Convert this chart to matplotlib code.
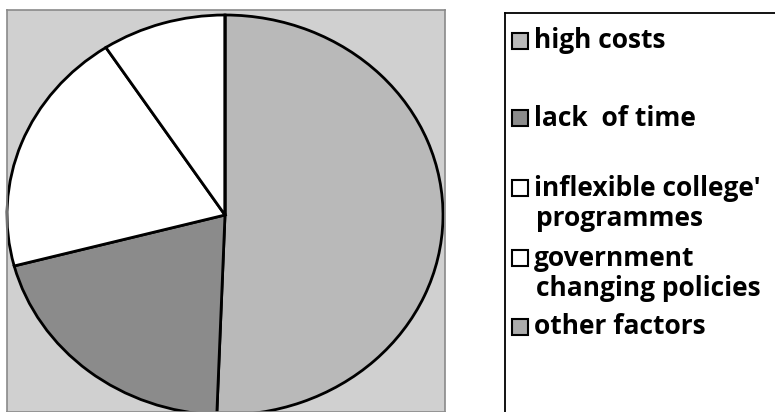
import matplotlib.pyplot as plt
from matplotlib.patches import Rectangle

labels = ['high costs', 'lack  of time', "inflexible college'\nprogrammes",
          'government\nchanging policies', 'other factors']
shares = [50.6, 20.3, 19.9, 9.2, 0.0]
colors = ['#b9b9b9', '#8b8b8b', '#ffffff', '#ffffff', '#acacac']

# legend rows (y of first text line, in pixels from top)
label_y = [41, 118, 188, 258, 327]

fig = plt.figure(figsize=(7.75, 4.12), dpi=100)

# pie area
ax = fig.add_axes([7 / 775, 0, 438 / 775, 402 / 412])
ax.pie(shares, colors=colors, startangle=90, counterclock=False,
       wedgeprops=dict(edgecolor='black', linewidth=2.0))
ax.set_aspect('auto')
ax.set_xlim(-218 / 218, 220 / 218)
ax.set_ylim(-197 / 200, 205 / 200)
ax.set_frame_on(True)
ax.set_facecolor('#d0d0d0')
for s in ax.spines.values():
    s.set_color('#8a8a8a')
    s.set_linewidth(1.2)

# legend box
lax = fig.add_axes([505 / 775, 0, 1 - 505 / 775, 399 / 412])
lax.set_xlim(505, 775)
lax.set_ylim(412, 13)
lax.set_xticks([])
lax.set_yticks([])
for s in lax.spines.values():
    s.set_color('black')
    s.set_linewidth(1.3)
lax.spines['bottom'].set_visible(False)
lax.spines['right'].set_visible(False)

for lab, col, y in zip(labels, colors, label_y):
    lax.add_patch(Rectangle((512, y - 8), 16, 16, facecolor=col,
                            edgecolor='black', linewidth=1.5))
    for i, line in enumerate(lab.split('\n')):
        lax.text(534 + 2 * i, y + 31 * i, line, fontsize=19, fontweight='bold',
                 family='Open Sans', va='center', ha='left', color='black',
                 clip_on=False)

fig.savefig('out.png', dpi=100)
